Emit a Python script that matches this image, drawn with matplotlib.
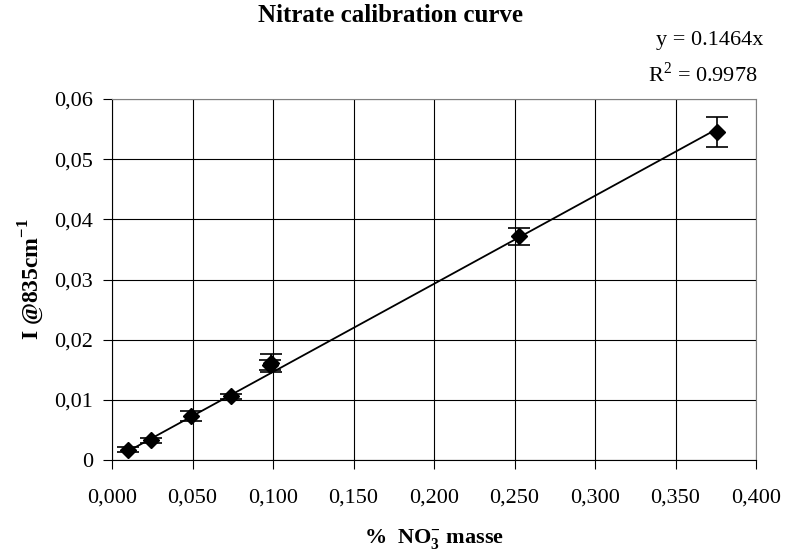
import numpy as np
import matplotlib.pyplot as plt
from matplotlib.ticker import FuncFormatter, MultipleLocator

plt.rcParams['font.family'] = ['Liberation Serif', 'DejaVu Serif']
plt.rcParams['mathtext.fontset'] = 'custom'
plt.rcParams['mathtext.rm'] = 'Liberation Serif'
plt.rcParams['mathtext.bf'] = 'Liberation Serif:bold'

# calibration standards: nitrate mass fraction vs. band intensity at 835 cm-1
conc = [0.010, 0.024, 0.049, 0.074, 0.098, 0.099, 0.253, 0.376]
intensity = [0.0017, 0.0033, 0.0073, 0.0106, 0.0158, 0.0162, 0.0372, 0.0545]
err = [0.0004, 0.0004, 0.0008, 0.0004, 0.0008, 0.0015, 0.0014, 0.0025]
slope = 0.1464
r2 = 0.9978

fig = plt.figure(figsize=(7.85, 5.59), dpi=100)
ax = fig.add_axes([0.1427, 0.1771, 0.8204, 0.6458])

ax.set_xlim(0, 0.4)
ax.set_ylim(0, 0.06)
ax.xaxis.set_major_locator(MultipleLocator(0.05))
ax.yaxis.set_major_locator(MultipleLocator(0.01))
ax.xaxis.set_major_formatter(FuncFormatter(lambda v, p: f"{v:.3f}".replace('.', ',')))
ax.yaxis.set_major_formatter(FuncFormatter(lambda v, p: '0' if abs(v) < 1e-9 else f"{v:.2f}".replace('.', ',')))
ax.grid(True, color='black', linewidth=0.8)
ax.set_axisbelow(True)
for s in ('top', 'right'):
    ax.spines[s].set_color('#808080')
for s in ('left', 'bottom'):
    ax.spines[s].set_color('black')
ax.tick_params(direction='out', length=6.5, width=0.8, labelsize=16)
ax.tick_params(axis='x', pad=14)
ax.tick_params(axis='y', pad=7)

# trend line through origin
xl = np.array([min(conc), max(conc)])
ax.plot(xl, slope * xl, color='black', linewidth=1.3)

ax.errorbar(conc, intensity, yerr=err, fmt='D', color='black', markersize=8,
            capsize=8, elinewidth=1.2, capthick=1.2, zorder=3)

fig.text(0.498, 0.973, 'Nitrate calibration curve', ha='center', va='center',
         fontsize=18, fontweight='bold')
fig.text(0.972, 0.928, f'y = {slope}x', ha='right', va='center', fontsize=16)
fig.text(0.965, 0.866, f'R$^2$ = {r2}', ha='right', va='center', fontsize=16)

ax.set_xlabel(r'%  NO$_\mathbf{3}^{\mathbf{-}}$ masse', fontsize=16, fontweight='bold', labelpad=14)
ax.set_ylabel(r'I @835cm$^{\mathbf{-1}}$', fontsize=17, fontweight='bold', labelpad=6)

fig.savefig('out.png', dpi=100)
